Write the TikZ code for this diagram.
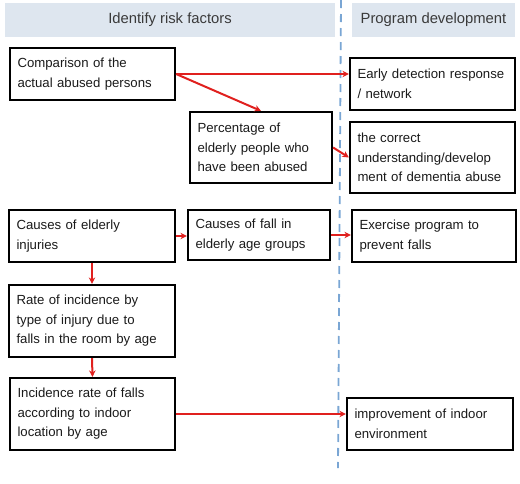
\documentclass[tikz,border=0pt]{standalone}
\usepackage{fontspec}
\setmainfont{Liberation Sans}
\usetikzlibrary{arrows.meta,calc}
\definecolor{hdrfill}{HTML}{DEE6EF}
\definecolor{hdrtext}{HTML}{3A3A3A}
\definecolor{arrred}{HTML}{E0201E}
\definecolor{dashblue}{HTML}{7AA6D4}
\definecolor{boxtext}{HTML}{1A1A1A}
\begin{document}
\begin{tikzpicture}[x=1pt,y=-1pt,
  hdr/.style={fill=hdrfill,draw=none,inner sep=0pt,text=hdrtext,font=\fontsize{14.8}{17}\selectfont},
  box/.style={draw=black,line width=2.2pt,rectangle,inner xsep=7.5pt,inner ysep=2pt,align=left,text=boxtext,
    font=\fontsize{13.2}{19.5}\selectfont},
  arr/.style={draw=arrred,line width=2pt,-{Stealth[length=6.5pt,width=6.5pt]}}
  ]
\useasboundingbox (0,0) rectangle (520,483);
% headers
\node[hdr,minimum width=330,minimum height=34] (h1) at (170,20) {Identify risk factors};
\node[hdr,minimum width=163,minimum height=34] (h2) at (433.5,20) {Program development};
% dashed divider
\coordinate (dtop) at (341,0);
\coordinate (dbot) at (338,468);
\draw[dashblue,line width=1.8pt,dash pattern=on 8pt off 6pt] (dtop) -- (dbot);
% boxes
\node[box,text width=150,minimum width=165,minimum height=52] (b1) at (92.5,74) {Comparison of the\\actual abused persons};
\node[box,text width=150,minimum width=165,minimum height=52] (e1) at (432.5,84) {Early detection response\\/ network};
\node[box,text width=127,minimum width=142,minimum height=71] (p1) at (261,147.5) {Percentage of\\elderly people who\\have been abused};
\node[box,text width=150,minimum width=165,minimum height=71] (c1) at (432.5,157.5) {the correct\\understanding/develop\\ment of dementia abuse};
\node[box,text width=151,minimum width=166,minimum height=52] (ci) at (92,236) {Causes of elderly\\injuries};
\node[box,text width=127,minimum width=142,minimum height=50] (cf) at (259,235) {Causes of fall in\\elderly age groups};
\node[box,text width=149,minimum width=164,minimum height=52] (ex) at (434,236) {Exercise program to\\prevent falls};
\node[box,text width=151,minimum width=166,minimum height=72] (r) at (92,321) {Rate of incidence by\\type of injury due to\\falls in the room by age};
\node[box,text width=150,minimum width=165,minimum height=72] (ir) at (92.5,414) {Incidence rate of falls\\according to indoor\\location by age};
\node[box,text width=151,minimum width=166,minimum height=52] (im) at (430,424) {improvement of indoor\\environment};
% arrows
\draw[arr] (b1.east) -- (b1.east -| e1.west);
\draw[arr] (b1.east) -- (p1.north);
\draw[arr] (p1.east) -- (c1.west);
\draw[arr] (ci.east) -- (ci.east -| cf.west);
\draw[arr] (cf.east) -- (cf.east -| ex.west);
\draw[arr] (ci.south) -- (r.north);
\draw[arr] (r.south) -- (ir.north);
\draw[arr] (ir.east) -- (ir.east -| im.west);
\end{tikzpicture}
\end{document}
